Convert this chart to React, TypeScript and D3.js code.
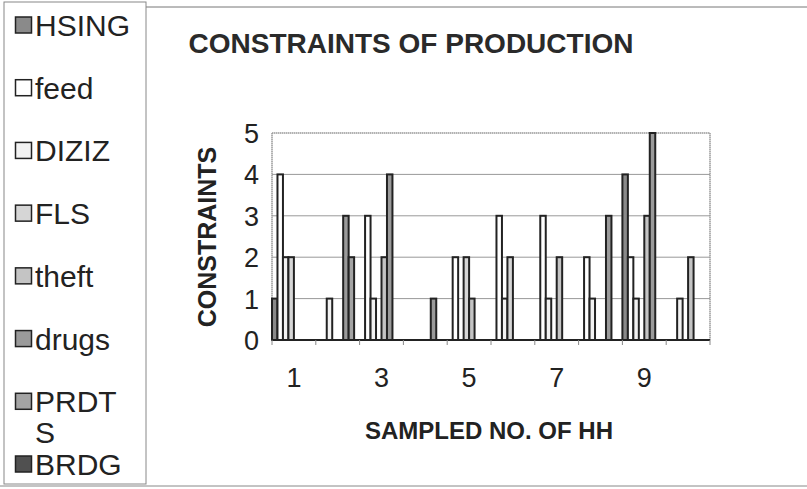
import React from 'react';
import * as d3 from 'd3';

const categories = ['1', '2', '3', '4', '5', '6', '7', '8', '9', '10'];
const seriesNames = ['HSING', 'feed', 'DIZIZ', 'FLS', 'theft', 'drugs', 'PRDTS', 'BRDG'];
const HSING = [1, 0, 0, 0, 0, 0, 0, 0, 4, 0];
const feed = [4, 0, 3, 0, 2, 3, 3, 2, 2, 0];
const DIZIZ = [2, 1, 1, 0, 0, 1, 1, 1, 1, 1];
const FLS = [2, 0, 0, 0, 2, 2, 0, 0, 0, 0];
const theft = [0, 0, 2, 0, 1, 0, 2, 0, 3, 2];
const drugs = [0, 3, 4, 1, 0, 0, 0, 3, 5, 0];
const PRDTS = [0, 2, 0, 0, 0, 0, 0, 0, 0, 0];
const BRDG = [0, 0, 0, 0, 0, 0, 0, 0, 0, 0];
const seriesValues = [HSING, feed, DIZIZ, FLS, theft, drugs, PRDTS, BRDG];
const xTickLabels = ['1', '3', '5', '7', '9'];
const yTicks = [0, 1, 2, 3, 4, 5];
const fills = ['#8a8a8a', '#ffffff', '#f2f2f2', '#d6d6d6', '#c4c4c4', '#9a9a9a', '#a4a4a4', '#505050'];

const FONT = '"Liberation Sans", Arial, sans-serif';
const INK = '#222';

export default function App() {
  const W = 807, H = 489;
  const left = 272, right = 710, top = 133, bottom = 340;
  const x0 = d3.scaleBand<string>().domain(categories).range([left, right]).paddingInner(0).paddingOuter(0);
  const x1 = d3.scaleBand<string>().domain(seriesNames).range([0, x0.bandwidth()]).padding(0);
  const y = d3.scaleLinear().domain([0, 5]).range([bottom, top]);
  const legendY = d3.scalePoint<string>().domain(seriesNames).range([25, 464]);

  return (
    <svg width={W} height={H} style={{ position: 'absolute', left: 0, top: 0, background: '#fff' }}>
      <rect x={0} y={0} width={W} height={H} fill="#fff" />
      {/* outer frame lines */}
      <line x1={146} y1={7} x2={W} y2={7} stroke="#777" strokeWidth={1} />
      <line x1={0} y1={486} x2={W} y2={486} stroke="#888" strokeWidth={1} />
      {/* legend box */}
      <rect x={4} y={2} width={142} height={482} fill="none" stroke="#888" strokeWidth={1} />
      {seriesNames.map((s, i) => {
        const cy = legendY(s)!;
        const lines = s === 'PRDTS' ? ['PRDT', 'S'] : [s];
        return (
          <g key={s}>
            <rect x={15.5} y={cy - 8} width={16} height={16} fill={fills[i]} stroke={INK} strokeWidth={1.5} />
            <text x={35} y={cy + 11} fontFamily={FONT} fontSize={30} fill={INK}>
              {lines.map((l, k) => (
                <tspan key={k} x={35} dy={k === 0 ? 0 : 31}>{l}</tspan>
              ))}
            </text>
          </g>
        );
      })}

      {/* title */}
      <text x={411} y={53} textAnchor="middle" fontFamily={FONT} fontWeight="bold" fontSize={28} fill="#2a2a2a">
        CONSTRAINTS OF PRODUCTION
      </text>

      {/* gridlines */}
      {yTicks.filter(t => t > 0 && t < 5).map(t => (
        <line key={t} x1={left} x2={right} y1={y(t)} y2={y(t)} stroke="#999" strokeWidth={1} />
      ))}
      {/* plot border */}
      <line x1={left} x2={right} y1={y(5)} y2={y(5)} stroke="#999" strokeWidth={1.5} strokeDasharray="1.5 0.5" />
      <line x1={left} x2={left} y1={y(5)} y2={bottom} stroke="#999" strokeWidth={1.5} strokeDasharray="1.5 0.5" />
      <line x1={right} x2={right} y1={y(5)} y2={bottom} stroke="#999" strokeWidth={1.5} strokeDasharray="1.5 0.5" />

      {/* bars */}
      {categories.map((c, ci) => (
        <g key={c} transform={`translate(${x0(c)},0)`}>
          {seriesNames.map((s, si) => {
            const v = seriesValues[si][ci];
            if (!v) return null;
            return (
              <rect key={s} x={x1(s)!} y={y(v)} width={x1.bandwidth()} height={bottom - y(v)}
                fill={fills[si]} stroke={INK} strokeWidth={2} />
            );
          })}
        </g>
      ))}

      {/* baseline */}
      <line x1={left} x2={right} y1={bottom} y2={bottom} stroke={INK} strokeWidth={2} />
      {categories.map((c) => (
        <line key={c} x1={x0(c)! + x0.bandwidth()} x2={x0(c)! + x0.bandwidth()} y1={bottom} y2={bottom + 5} stroke="#888" strokeWidth={1} />
      ))}
      <line x1={left} x2={left} y1={bottom} y2={bottom + 5} stroke="#888" strokeWidth={1} />

      {/* y tick labels */}
      {yTicks.map(t => (
        <text key={t} x={259} y={y(t) + 10} textAnchor="end" fontFamily={FONT} fontSize={27} fill={INK}>{t}</text>
      ))}
      {/* x tick labels */}
      {xTickLabels.map(l => (
        <text key={l} x={x0(l)! + x0.bandwidth() / 2} y={387} textAnchor="middle" fontFamily={FONT} fontSize={27} fill={INK}>{l}</text>
      ))}

      {/* axis titles */}
      <text transform={`translate(216,237) rotate(-90)`} textAnchor="middle" fontFamily={FONT} fontWeight="bold" fontSize={25} fill={INK}>
        CONSTRAINTS
      </text>
      <text x={489} y={439} textAnchor="middle" fontFamily={FONT} fontWeight="bold" fontSize={24} fill={INK}>
        SAMPLED NO. OF HH
      </text>
    </svg>
  );
}
